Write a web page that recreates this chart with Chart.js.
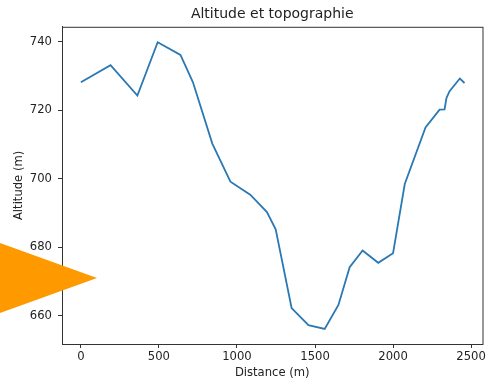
<!DOCTYPE html>
<html>
<head>
<meta charset="utf-8">
<script src="https://cdn.jsdelivr.net/npm/chart.js@4"></script>
<style>
  html, body { margin: 0; padding: 0; background: #fff; }
  #wrap { width: 488px; height: 380px; }
</style>
</head>
<body>
<div id="wrap"><canvas id="topoChart" width="488" height="380"></canvas></div>
<script>
const distances = [0, 190, 362, 492, 638, 718, 842, 958, 1085, 1192, 1248, 1350, 1458, 1562, 1650, 1722, 1805, 1905, 2000, 2075, 2208, 2298, 2330, 2342, 2362, 2428, 2458];
const altitudes = [728.2, 733.2, 724.3, 739.9, 736.2, 728.2, 710.3, 699.2, 695.4, 690.3, 685.3, 662.3, 657.3, 656.2, 663.2, 674.2, 679.1, 675.5, 678.3, 698.5, 715.0, 720.2, 720.3, 723.6, 725.6, 729.3, 728.0];

const xTicks = [0, 500, 1000, 1500, 2000, 2500];
const yTicks = [660, 680, 700, 720, 740];

const textColor = '#222';
const axisColor = '#333';
const tickFont = { family: 'DejaVu Sans', size: 11.6 };

// cadre complet autour de la zone du graphique (style matplotlib)
const boxPlugin = {
    id: 'box',
    afterDraw(chart) {
        const { ctx, chartArea: a } = chart;
        ctx.save();
        ctx.strokeStyle = axisColor;
        ctx.lineWidth = 1;
        ctx.strokeRect(a.left + 0.5, a.top + 0.5, a.right - a.left, a.bottom - a.top);
        ctx.restore();
    }
};

// triangle orange en surimpression (à gauche)
const overlayPlugin = {
    id: 'overlay',
    afterDraw(chart) {
        const ctx = chart.ctx;
        ctx.save();
        ctx.fillStyle = '#ff9900';
        ctx.beginPath();
        ctx.moveTo(0, 243);
        ctx.lineTo(97, 278);
        ctx.lineTo(0, 313);
        ctx.closePath();
        ctx.fill();
        ctx.restore();
    }
};

const ctx = document.getElementById('topoChart').getContext('2d');
new Chart(ctx, {
    type: 'line',
    data: {
        datasets: [{
            data: distances.map((d, i) => ({ x: d, y: altitudes[i] })),
            borderColor: '#2a78b4',
            borderWidth: 1.8,
            pointRadius: 0,
            fill: false,
            tension: 0
        }]
    },
    options: {
        responsive: false,
        animation: false,
        layout: { padding: { left: 6, right: 2, top: 0, bottom: 0 } },
        plugins: {
            legend: { display: false },
            tooltip: { enabled: false },
            title: {
                display: true,
                fullSize: false,
                text: 'Altitude et topographie',
                color: textColor,
                font: { family: 'DejaVu Sans', size: 14, weight: 'normal' },
                padding: { top: 6, bottom: 4 }
            }
        },
        scales: {
            x: {
                type: 'linear',
                min: -121,
                max: 2573,
                afterBuildTicks: s => { s.ticks = xTicks.map(v => ({ value: v })); },
                afterFit: s => { s.height = 36; },
                grid: { display: true, drawOnChartArea: false, drawTicks: true, tickLength: 4, tickColor: axisColor },
                border: { display: true, color: axisColor },
                ticks: {
                    color: textColor,
                    padding: 2,
                    maxRotation: 0,
                    font: tickFont,
                    callback: v => String(v)
                },
                title: {
                    display: true,
                    text: 'Distance (m)',
                    color: textColor,
                    font: tickFont,
                    padding: { top: 2, bottom: 0 }
                }
            },
            y: {
                min: 651.8,
                max: 744.4,
                afterBuildTicks: s => { s.ticks = yTicks.map(v => ({ value: v })); },
                afterFit: s => { s.width = 56; },
                grid: { display: true, drawOnChartArea: false, drawTicks: true, tickLength: 4, tickColor: axisColor },
                border: { display: true, color: axisColor },
                ticks: {
                    color: textColor,
                    padding: 6,
                    font: tickFont,
                    callback: v => String(v)
                },
                title: {
                    display: true,
                    text: 'Altitude (m)',
                    color: textColor,
                    font: tickFont,
                    padding: { top: 6, bottom: 0 }
                }
            }
        }
    },
    plugins: [boxPlugin, overlayPlugin]
});
</script>
</body>
</html>
